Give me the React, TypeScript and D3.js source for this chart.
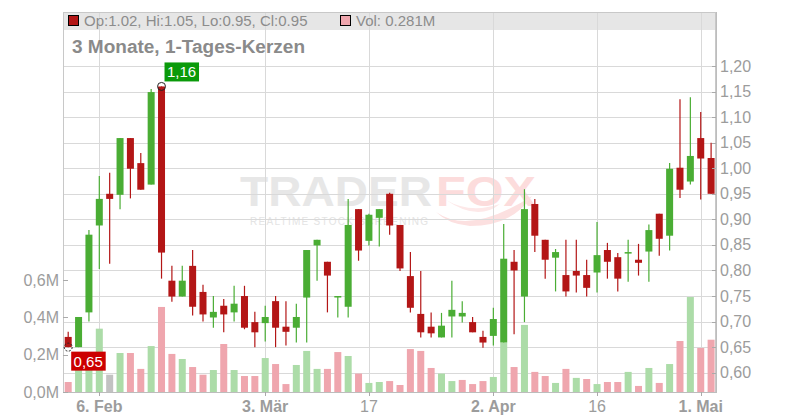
import React from 'react';
import * as d3 from 'd3';

// ---- Data ----
const opens = [0.67, 0.65, 0.718, 0.888, 0.95, 0.948, 1.059, 1.01, 0.968, 1.16, 0.78, 0.749, 0.809, 0.758, 0.708, 0.731, 0.718, 0.75, 0.699, 0.697, 0.74, 0.69, 0.688, 0.747, 0.849, 0.817, 0.749, 0.729, 0.92, 0.858, 0.903, 0.95, 0.889, 0.789, 0.715, 0.69, 0.669, 0.71, 0.71, 0.699, 0.67, 0.672, 0.659, 0.817, 0.749, 0.93, 0.86, 0.825, 0.791, 0.799, 0.791, 0.796, 0.84, 0.826, 0.833, 0.821, 0.837, 0.911, 0.868, 1.001, 0.974, 1.059, 1.02];
const highs = [0.68, 0.709, 0.879, 0.985, 0.991, 1.059, 1.059, 1.03, 1.155, 1.16, 0.809, 0.809, 0.84, 0.772, 0.75, 0.744, 0.77, 0.77, 0.719, 0.731, 0.75, 0.74, 0.735, 0.84, 0.86, 0.817, 0.75, 0.94, 0.92, 0.911, 0.92, 0.952, 0.889, 0.836, 0.799, 0.718, 0.717, 0.78, 0.74, 0.709, 0.682, 0.727, 0.891, 0.84, 0.959, 0.94, 0.86, 0.842, 0.86, 0.86, 0.821, 0.895, 0.854, 0.834, 0.86, 0.852, 0.89, 0.911, 1.01, 1.135, 1.139, 1.11, 1.05];
const lows = [0.65, 0.65, 0.7, 0.803, 0.813, 0.92, 0.941, 0.958, 0.968, 0.784, 0.739, 0.749, 0.712, 0.7, 0.688, 0.679, 0.7, 0.685, 0.65, 0.661, 0.65, 0.653, 0.659, 0.659, 0.78, 0.718, 0.708, 0.708, 0.819, 0.849, 0.847, 0.87, 0.799, 0.718, 0.669, 0.669, 0.669, 0.669, 0.698, 0.679, 0.649, 0.653, 0.659, 0.675, 0.699, 0.836, 0.784, 0.759, 0.749, 0.757, 0.749, 0.757, 0.784, 0.759, 0.778, 0.79, 0.778, 0.829, 0.839, 0.942, 0.968, 0.939, 0.95];
const closes = [0.65, 0.709, 0.87, 0.94, 0.94, 1.059, 0.999, 0.958, 1.149, 0.835, 0.749, 0.78, 0.729, 0.714, 0.719, 0.714, 0.735, 0.688, 0.679, 0.709, 0.688, 0.68, 0.709, 0.84, 0.86, 0.79, 0.75, 0.889, 0.839, 0.909, 0.92, 0.888, 0.804, 0.727, 0.679, 0.677, 0.692, 0.723, 0.717, 0.679, 0.659, 0.705, 0.823, 0.8, 0.92, 0.868, 0.821, 0.836, 0.759, 0.79, 0.766, 0.83, 0.817, 0.784, 0.836, 0.815, 0.879, 0.862, 0.999, 0.958, 1.024, 1.019, 0.95];
const volumes = [0.055, 0.19, 0.2, 0.34, 0.094, 0.21, 0.21, 0.125, 0.247, 0.456, 0.205, 0.178, 0.135, 0.094, 0.119, 0.258, 0.119, 0.087, 0.087, 0.183, 0.151, 0.044, 0.146, 0.221, 0.125, 0.125, 0.215, 0.194, 0.1, 0.05, 0.055, 0.06, 0.039, 0.231, 0.221, 0.13, 0.1, 0.06, 0.066, 0.044, 0.06, 0.082, 0.265, 0.135, 0.36, 0.109, 0.087, 0.05, 0.125, 0.077, 0.071, 0.044, 0.055, 0.055, 0.109, 0.034, 0.13, 0.05, 0.151, 0.274, 0.509, 0.237, 0.281];
const PRIOR_CLOSE = 0.68;

const xTickIndex = [3, 19, 29, 41, 51, 61];
const xTickLabels = ['6. Feb', '3. Mär', '17', '2. Apr', '16', '1. Mai'];
const xTickBold = [true, true, false, true, false, true];
const priceTicks = [0.6, 0.65, 0.7, 0.75, 0.8, 0.85, 0.9, 0.95, 1.0, 1.05, 1.1, 1.15, 1.2];
const volumeTicks = [0, 0.2, 0.4, 0.6];

const HIGH_INDEX = 9;
const HIGH_VALUE = 1.16;
const LOW_INDEX = 0;
const LOW_VALUE = 0.65;

const FONT = '"Liberation Sans", Arial, sans-serif';
const UP = '#4aad34';
const DOWN = '#b31616';
const VOL_UP = '#acdca8';
const VOL_DOWN = '#efa6ae';
const VOL_FLAT = '#c2c2c2';
const GRID = '#d9d9d9';
const TEXT = '#9c9c9c';

export default function App() {
  const left = 63, right = 716, top = 12, bottom = 392;
  const n = closes.length;
  const x = d3.scaleLinear().domain([0, n - 1]).range([68.2, 711.1]);
  const yP = d3.scaleLinear().domain([0.6, 1.2]).range([372.7, 66.0]);
  const yV = d3.scaleLinear().domain([0, 0.6]).range([392.3, 280.0]);
  const bw = 7;
  const fmt2 = (v: number) => d3.format('.2f')(v).replace('.', ',');
  const fmtV = (v: number) => d3.format('.1f')(v).replace('.', ',') + 'M';

  const hx = x(HIGH_INDEX), hy = yP(HIGH_VALUE);
  const lx = x(LOW_INDEX), ly = yP(LOW_VALUE);

  return (
    <svg width={800} height={420} style={{ position: 'absolute', left: 0, top: 0, background: '#fff' }} fontFamily={FONT}>
      {/* legend bar */}
      <rect x={left} y={top} width={right - left} height={18} fill="#e6e6e6" />

      {/* watermark */}
      <g>
        <text x={240} y={206} fontSize={42} fontWeight="bold" fill="#e7e7e7" textLength={192} lengthAdjust="spacingAndGlyphs">TRADER</text>
        <text x={436} y={206} fontSize={42} fontWeight="bold" fill="#fcdcdc" textLength={100} lengthAdjust="spacingAndGlyphs">FOX</text>
        <path d="M436,212 Q470,236 532,196 Q512,226 470,226 Q448,224 436,212 Z" fill="#fce0e0" />
        <path d="M446,200 Q470,214 500,204 Q478,222 446,200 Z" fill="#fde8e8" />
        <text x={250} y={225} fontSize={10} fill="#e4e4e4" textLength={178} lengthAdjust="spacing">REALTIME STOCK SCREENING</text>
      </g>

      {/* horizontal grid */}
      {priceTicks.map((t) => (
        <line key={'hg' + t} x1={left} x2={right} y1={Math.round(yP(t)) + 0.5} y2={Math.round(yP(t)) + 0.5} stroke={GRID} strokeWidth={1} />
      ))}
      {/* vertical grid */}
      {xTickIndex.map((i) => (
        <line key={'vg' + i} x1={Math.round(x(i)) + 0.5} x2={Math.round(x(i)) + 0.5} y1={top} y2={bottom} stroke={GRID} strokeWidth={1} />
      ))}

      {/* volume bars */}
      {volumes.map((v, i) => {
        const prev = i === 0 ? PRIOR_CLOSE : closes[i - 1];
        const c = closes[i] > prev ? VOL_UP : closes[i] < prev ? VOL_DOWN : VOL_FLAT;
        return <rect key={'v' + i} x={x(i) - bw / 2} y={yV(v)} width={bw} height={yV(0) - yV(v)} fill={c} />;
      })}

      {/* candles */}
      {closes.map((c, i) => {
        const o = opens[i];
        const up = c >= o;
        const col = up ? UP : DOWN;
        const yt = yP(Math.max(o, c));
        const yb = yP(Math.min(o, c));
        return (
          <g key={'c' + i}>
            <line x1={x(i)} x2={x(i)} y1={yP(highs[i])} y2={yP(lows[i])} stroke={col} strokeWidth={1.2} />
            <rect x={x(i) - bw / 2} y={yt} width={bw} height={Math.max(1.5, yb - yt)} fill={col} />
          </g>
        );
      })}

      {/* frame */}
      <rect x={left + 0.5} y={top + 0.5} width={right - left - 1} height={bottom - top} fill="none" stroke="#c8c8c8" strokeWidth={1} />
      <line x1={right + 0.5} x2={right + 0.5} y1={top} y2={bottom + 1} stroke="#bdbdbd" />
      <line x1={left} x2={right} y1={bottom + 0.5} y2={bottom + 0.5} stroke="#bdbdbd" />

      {/* right price axis */}
      {priceTicks.map((t) => (
        <g key={'pt' + t}>
          <line x1={right - 4} x2={right} y1={Math.round(yP(t)) + 0.5} y2={Math.round(yP(t)) + 0.5} stroke="#aaa" />
          <text x={720} y={yP(t) + 5.5} fontSize={16} fill={TEXT}>{fmt2(t)}</text>
        </g>
      ))}

      {/* left volume axis */}
      {volumeTicks.map((t) => (
        <g key={'vt' + t}>
          <line x1={left} x2={left + 5} y1={Math.round(yV(t)) + 0.5} y2={Math.round(yV(t)) + 0.5} stroke="#aaa" />
          <text x={59} y={yV(t) + 5.5} fontSize={16} fill={TEXT} textAnchor="end">{fmtV(t)}</text>
        </g>
      ))}

      {/* bottom axis */}
      {xTickIndex.map((i, k) => (
        <g key={'xt' + i}>
          <line x1={Math.round(x(i)) + 0.5} x2={Math.round(x(i)) + 0.5} y1={bottom} y2={bottom + 4} stroke="#aaa" />
          <text x={x(i)} y={412} fontSize={16} fill={TEXT} fontWeight={xTickBold[k] ? 'bold' : 'normal'} textAnchor="middle">{xTickLabels[k]}</text>
        </g>
      ))}

      {/* legend */}
      <rect x={68.5} y={15.5} width={10} height={10} fill={DOWN} stroke="#000" />
      <text x={84} y={26} fontSize={15} fill="#8c8c8c">{`Op:${opens[n - 1].toFixed(2)}, Hi:${highs[n - 1].toFixed(2)}, Lo:${lows[n - 1].toFixed(2)}, Cl:${closes[n - 1].toFixed(2)}`}</text>
      <rect x={340.5} y={15.5} width={10} height={10} fill={VOL_DOWN} stroke="#000" />
      <text x={356} y={26} fontSize={15} fill="#8c8c8c">{`Vol: ${volumes[n - 1].toFixed(3)}M`}</text>

      {/* title */}
      <text x={72} y={53} fontSize={18} fontWeight="bold" fill="#8a8a8a" textLength={233} lengthAdjust="spacingAndGlyphs">3 Monate, 1-Tages-Kerzen</text>

      {/* high marker */}
      <circle cx={hx} cy={hy} r={4} fill="none" stroke="#222" strokeWidth={1} />
      <rect x={hx + 3} y={hy - 24} width={34.5} height={19} fill="#0a9a0a" />
      <text x={hx + 20} y={hy - 9} fontSize={15} fill="#fff" textAnchor="middle">{fmt2(HIGH_VALUE)}</text>

      {/* low marker */}
      <circle cx={lx} cy={ly} r={4} fill="none" stroke="#222" strokeWidth={1} strokeDasharray="2,1.5" />
      <rect x={lx + 3} y={ly + 4.5} width={34.5} height={19} fill="#cc0000" />
      <text x={lx + 20} y={ly + 19.5} fontSize={15} fill="#fff" textAnchor="middle">{fmt2(LOW_VALUE)}</text>
    </svg>
  );
}
